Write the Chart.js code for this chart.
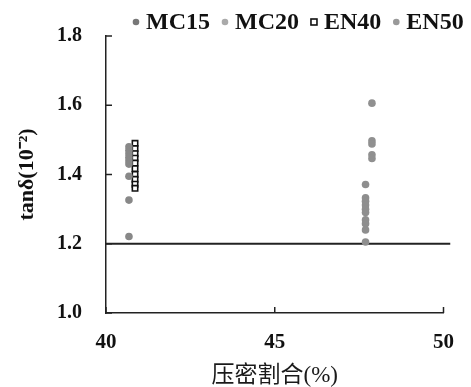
<!DOCTYPE html>
<html><head><meta charset="utf-8">
<script src="https://cdn.jsdelivr.net/npm/chart.js@4/dist/chart.umd.min.js"></script>
<style>html,body{margin:0;padding:0;background:#fff;}#wrap{width:471px;height:387px;}</style>
</head><body><div id="wrap"><canvas id="c" width="471" height="387"></canvas></div>
<script>
// ---- data ----
const seriesNames = ['MC15', 'MC20', 'EN40', 'EN50'];
const mc15X = [40.68, 40.68, 40.68, 40.68, 40.68, 40.68, 40.68, 40.68, 40.68];
const mc15Y = [1.48, 1.47, 1.46, 1.45, 1.44, 1.43, 1.395, 1.326, 1.221];
const mc20X = [47.69, 47.69, 47.69, 47.69, 47.69, 47.69, 47.69, 47.69, 47.69, 47.69];
const mc20Y = [1.371, 1.333, 1.323, 1.312, 1.30, 1.29, 1.269, 1.258, 1.24, 1.205];
const en40X = [40.86, 40.86, 40.86, 40.86, 40.86, 40.86, 40.86, 40.86, 40.86, 40.86];
const en40Y = [1.49, 1.475, 1.46, 1.447, 1.433, 1.417, 1.40, 1.386, 1.372, 1.36];
const en50X = [47.88, 47.88, 47.88, 47.88, 47.88];
const en50Y = [1.606, 1.497, 1.488, 1.457, 1.446];
const refLineX = [40, 50.2];
const refLineY = [1.2, 1.2];
const xTicks = [40, 45, 50];
const yTicks = [1.0, 1.2, 1.4, 1.6, 1.8];

const pts = (xs, ys) => xs.map((x, i) => ({x: x, y: ys[i]}));

const serif = "'Liberation Serif', 'Times New Roman', serif";

const legendPlugin = {
  id: 'customLegend',
  afterDraw(chart) {
    const ctx = chart.ctx;
    ctx.save();
    ctx.font = 'bold 24px ' + serif;
    ctx.textBaseline = 'middle';
    let x = 136;
    const y = 22;
    chart.data.datasets.forEach(ds => {
      if (!ds.inLegend) return;
      if (ds.pointStyle === 'rect') {
        ctx.fillStyle = '#fff';
        ctx.strokeStyle = '#111';
        ctx.lineWidth = 1.6;
        ctx.fillRect(x - 3, y - 3, 6, 6);
        ctx.strokeRect(x - 3, y - 3, 6, 6);
      } else {
        ctx.fillStyle = ds.legendColor;
        ctx.beginPath();
        ctx.arc(x, y, 3.3, 0, Math.PI * 2);
        ctx.fill();
      }
      ctx.fillStyle = '#111';
      ctx.textAlign = 'left';
      ctx.fillText(ds.label, x + 10, y + 1);
      const w = ctx.measureText(ds.label).width;
      x = x + 10 + w + 15;
    });
    ctx.restore();
  }
};

const tickPlugin = {
  id: 'inwardTicks',
  afterDraw(chart) {
    const {ctx, chartArea: a, scales} = chart;
    ctx.save();
    ctx.strokeStyle = '#222';
    ctx.lineWidth = 1.5;
    scales.y.ticks.forEach(t => {
      const py = scales.y.getPixelForValue(t.value);
      ctx.beginPath(); ctx.moveTo(a.left, py); ctx.lineTo(a.left + 6, py); ctx.stroke();
    });
    scales.x.ticks.forEach(t => {
      const px = scales.x.getPixelForValue(t.value);
      ctx.beginPath(); ctx.moveTo(px, a.bottom); ctx.lineTo(px, a.bottom - 6); ctx.stroke();
    });
    ctx.restore();
  }
};

new Chart(document.getElementById('c'), {
  type: 'scatter',
  data: {
    datasets: [
      {label: seriesNames[0], data: pts(mc15X, mc15Y), inLegend: true, legendColor: '#777',
       pointStyle: 'circle', pointRadius: 3.8, backgroundColor: '#888', borderColor: '#888', borderWidth: 0},
      {label: seriesNames[1], data: pts(mc20X, mc20Y), inLegend: true, legendColor: '#aaa',
       pointStyle: 'circle', pointRadius: 3.8, backgroundColor: '#8e8e8e', borderColor: '#8e8e8e', borderWidth: 0},
      {label: seriesNames[2], data: pts(en40X, en40Y), inLegend: true,
       pointStyle: 'rect', pointRadius: 3.8, backgroundColor: '#fff', borderColor: '#111', borderWidth: 1.6},
      {label: seriesNames[3], data: pts(en50X, en50Y), inLegend: true, legendColor: '#999',
       pointStyle: 'circle', pointRadius: 3.8, backgroundColor: '#909090', borderColor: '#909090', borderWidth: 0},
      {label: 'ref', type: 'line', data: pts(refLineX, refLineY), inLegend: false,
       borderColor: '#222', borderWidth: 2, pointRadius: 0, showLine: true, clip: 12}
    ]
  },
  options: {
    responsive: false,
    animation: false,
    layout: {padding: {left: 0, right: 27, top: 25, bottom: 0}},
    plugins: {legend: {display: false}, tooltip: {enabled: false}},
    scales: {
      x: {
        type: 'linear', min: 40, max: 50,
        afterBuildTicks: s => { s.ticks = xTicks.map(v => ({value: v})); },
        afterFit: s => { s.height = 74; },
        grid: {display: false, drawTicks: false},
        border: {display: true, color: '#222', width: 1.5},
        ticks: {padding: 17, color: '#111', font: {family: serif, size: 21, weight: 'bold'}},
        title: {display: true, text: '压密割合(%)', color: '#1a1a1a', padding: {top: 0, bottom: 0},
                font: {family: "'Liberation Serif', 'Noto Sans CJK SC', serif", size: 23, lineHeight: 1}}
      },
      y: {
        type: 'linear', min: 1.0, max: 1.8,
        afterBuildTicks: s => { s.ticks = yTicks.map(v => ({value: v})); },
        afterFit: s => { s.width = 106; },
        grid: {display: false, drawTicks: false},
        border: {display: true, color: '#222', width: 1.5},
        ticks: {padding: 24, color: '#111', font: {family: serif, size: 20, weight: 'bold'},
                callback: v => Number(v).toFixed(1)},
        title: {display: true, text: 'tanδ(10⁻²)', color: '#111', padding: {top: 14, bottom: 0},
                font: {family: serif, size: 22, weight: 'bold'}}
      }
    }
  },
  plugins: [legendPlugin, tickPlugin]
});
</script>
</body></html>
